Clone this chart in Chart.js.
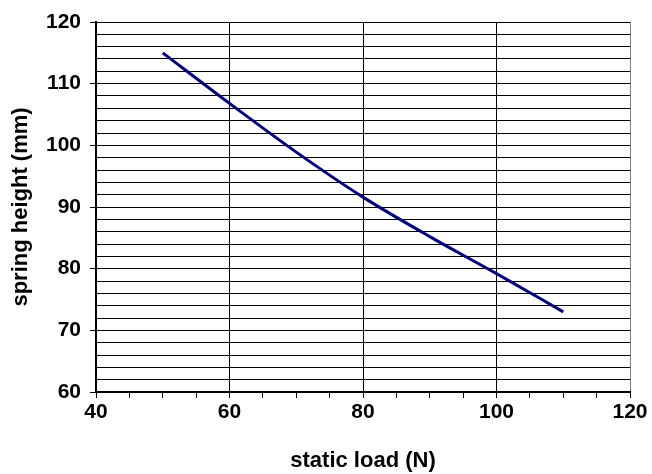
<!DOCTYPE html>
<html>
<head>
<meta charset="utf-8">
<script src="https://cdn.jsdelivr.net/npm/chart.js@4/dist/chart.umd.min.js"></script>
<style>
  html, body { margin: 0; padding: 0; background: #fff; }
  #wrap { width: 652px; height: 474px; }
</style>
</head>
<body>
<div id="wrap"><canvas id="grafico" width="652" height="474"></canvas></div>
<script>
// static load (N) vs spring height (mm)
const carga = [50, 60, 70, 80, 90, 100, 110];
const altura = [115, 106.8, 98.9, 91.6, 85.2, 79.2, 73.0];

const xMin = 40, xMax = 120, xPasso = 5, xRotulo = 20;
const yMin = 60, yMax = 120, yPasso = 2, yRotulo = 10;

const fonte = { family: "'Liberation Sans', Arial, sans-serif", weight: 'bold' };

let ctx = document.getElementById('grafico').getContext('2d');

let grafico = new Chart(ctx, {
	type: 'line',
	data: {
		datasets: [{
			data: carga.map((c, i) => ({ x: c, y: altura[i] })),
			borderColor: '#000080',
			borderWidth: 3,
			pointRadius: 0,
			cubicInterpolationMode: 'monotone',
			fill: false
		}]
	},
	options: {
		responsive: false,
		animation: false,
		layout: { padding: { top: 22, right: 22, left: 0, bottom: 0 } },
		plugins: { legend: { display: false }, tooltip: { enabled: false } },
		scales: {
			x: {
				type: 'linear',
				min: xMin, max: xMax,
				afterFit: s => { s.height = 82; },
				ticks: {
					stepSize: xPasso,
					autoSkip: false,
					maxRotation: 0,
					padding: 2,
					color: '#000',
					font: { ...fonte, size: 21 },
					callback: v => (v % xRotulo === 0 ? v : '')
				},
				grid: {
					color: c => (c.tick && c.tick.value % xRotulo === 0 ? (c.tick.value === xMax ? '#808080' : '#000') : 'rgba(0,0,0,0)'),
					lineWidth: 1,
					tickColor: '#000',
					tickLength: 6
				},
				border: { color: '#000', width: 2 },
				title: {
					display: true,
					text: 'static load (N)',
					color: '#000',
					font: { ...fonte, size: 22 },
					padding: { top: 0, bottom: 0 }
				}
			},
			y: {
				min: yMin, max: yMax,
				afterFit: s => { s.width = 96; },
				ticks: {
					stepSize: yPasso,
					autoSkip: false,
					padding: 9,
					color: '#000',
					font: { ...fonte, size: 21 },
					callback: v => (v % yRotulo === 0 ? v : '')
				},
				grid: {
					color: '#000',
					lineWidth: 1,
					tickColor: c => (c.tick && c.tick.value % yRotulo === 0 ? '#000' : 'rgba(0,0,0,0)'),
					tickLength: 6
				},
				border: { color: '#000', width: 2 },
				title: {
					display: true,
					text: 'spring height (mm)',
					color: '#000',
					font: { ...fonte, size: 22 },
					padding: { top: 8, bottom: 0 }
				}
			}
		}
	}
});
</script>
</body>
</html>
